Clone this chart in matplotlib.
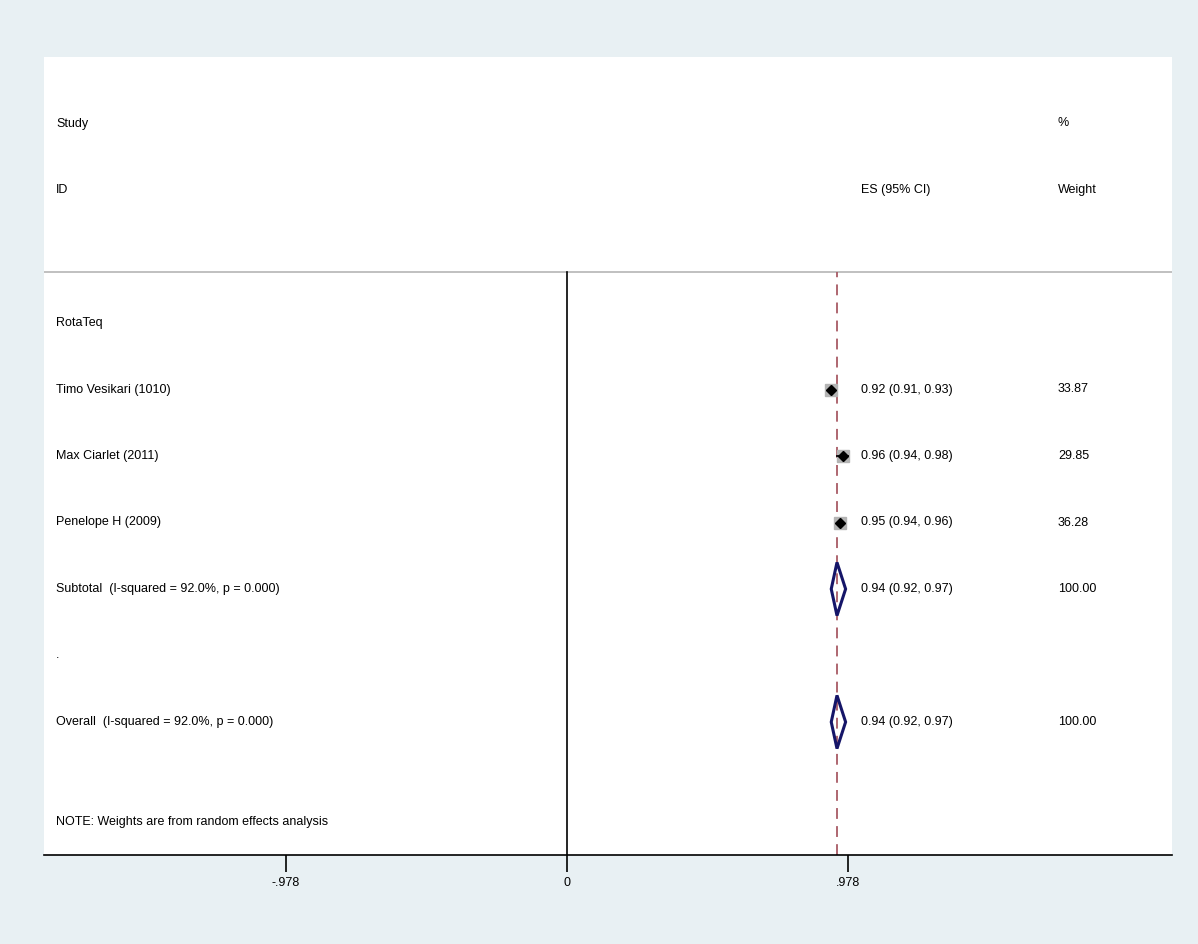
import numpy as np
import matplotlib.pyplot as plt

plt.rcParams['font.family'] = ['Liberation Sans', 'DejaVu Sans']

# study rows
studies = ['Timo Vesikari (1010)', 'Max Ciarlet (2011)', 'Penelope H (2009)']
es = [0.92, 0.96, 0.95]
lo = [0.91, 0.94, 0.94]
hi = [0.93, 0.98, 0.96]
weights = [33.87, 29.85, 36.28]

# pooled rows
pooled_labels = ['Subtotal  (I-squared = 92.0%, p = 0.000)',
                 'Overall  (I-squared = 92.0%, p = 0.000)']
pooled_es = [0.94, 0.94]
pooled_lo = [0.92, 0.92]
pooled_hi = [0.97, 0.97]
pooled_w = [100.00, 100.00]

tick_vals = [-0.978, 0, 0.978]
tick_labels = ['-.978', '0', '.978']

bg = '#e8f0f3'
fig = plt.figure(figsize=(11.98, 9.44), dpi=100, facecolor=bg)
W, H = 1198, 944
ax = fig.add_axes([44 / W, (H - 855) / H, (1172 - 44) / W, (855 - 57) / H])
ax.set_facecolor('white')
ax.set_xlim(-1.820, 2.106)
ax.set_ylim(0, 12)
for s in ['top', 'left', 'right']:
    ax.spines[s].set_visible(False)
ax.spines['bottom'].set_linewidth(1.2)
ax.set_yticks([])
ax.set_xticks(tick_vals)
ax.set_xticklabels(tick_labels, fontsize=9)
ax.tick_params(axis='x', length=12, width=1.2, pad=4)

fs = 9
x_lab = -1.820 + (56 - 44) / 281 * 0.978
x_es = (861 - 567) / 281 * 0.978
x_w = (1058 - 567) / 281 * 0.978

head_y = 8.77
ax.axhline(head_y, color='#b5b5b5', lw=1.2)
ax.plot([0, 0], [0, head_y], color='black', lw=1.2)
ax.plot([pooled_es[1], pooled_es[1]], [0, head_y], color='#a85a64', lw=1.3,
        ls=(0, (6, 4)))

ax.text(x_lab, 11, 'Study', fontsize=fs, va='center')
ax.text(x_lab, 10, 'ID', fontsize=fs, va='center')
ax.text(x_es, 10, 'ES (95% CI)', fontsize=fs, va='center')
ax.text(x_w, 11, '%', fontsize=fs, va='center')
ax.text(x_w, 10, 'Weight', fontsize=fs, va='center')

ax.text(x_lab, 8, 'RotaTeq', fontsize=fs, va='center')

ys = [7, 6, 5]
for y, name, e, l, h, w in zip(ys, studies, es, lo, hi, weights):
    size = np.sqrt(w) * 1.5
    ax.plot(e, y, marker='s', ms=size, color='#b4b4b4', mec='#b4b4b4', zorder=3)
    ax.plot([l, h], [y, y], color='black', lw=1.3, zorder=4)
    ax.plot(e, y, marker='D', ms=5, color='black', zorder=5)
    ax.text(x_lab, y, name, fontsize=fs, va='center')
    ax.text(x_es, y, f'{e:.2f} ({l:.2f}, {h:.2f})', fontsize=fs, va='center')
    ax.text(x_w, y, f'{w:.2f}', fontsize=fs, va='center')

ax.text(x_lab, 3, '.', fontsize=fs, va='center')

for y, name, e, l, h, w in zip([4, 2], pooled_labels, pooled_es, pooled_lo,
                               pooled_hi, pooled_w):
    ax.fill([l, e, h, e, l], [y, y + 0.4, y, y - 0.4, y], fill=False,
            edgecolor='#151568', lw=2.2, zorder=5)
    ax.text(x_lab, y, name, fontsize=fs, va='center')
    ax.text(x_es, y, f'{e:.2f} ({l:.2f}, {h:.2f})', fontsize=fs, va='center')
    ax.text(x_w, y, f'{w:.2f}', fontsize=fs, va='center')

ax.text(x_lab, 0.5, 'NOTE: Weights are from random effects analysis',
        fontsize=fs, va='center')

fig.savefig('out.png', dpi=100, facecolor=bg)
